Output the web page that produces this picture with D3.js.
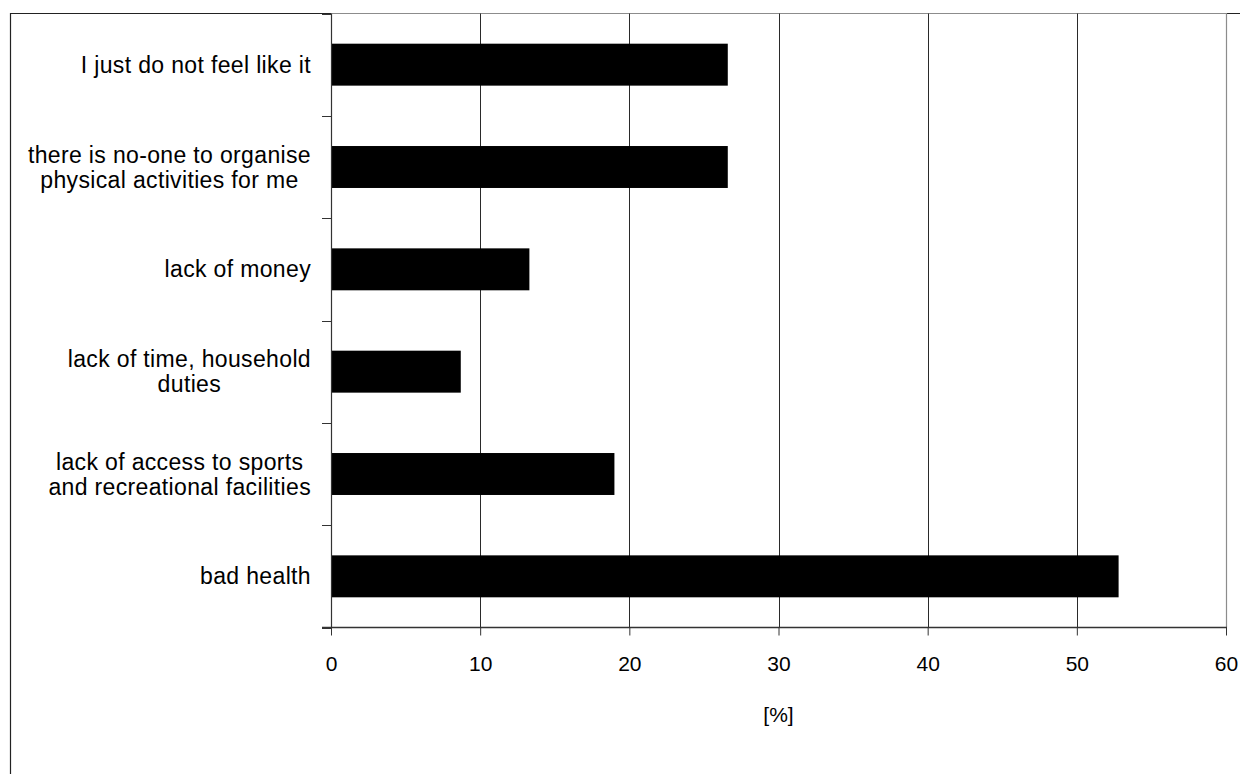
<!DOCTYPE html>
<html>
<head>
<meta charset="utf-8">
<script src="https://cdn.jsdelivr.net/npm/d3@7/dist/d3.min.js"></script>
<style>
  html, body { margin: 0; padding: 0; background: #fff; }
  svg { display: block; font-family: "Liberation Sans", Arial, sans-serif; }
</style>
</head>
<body>
<svg id="chart" width="1240" height="774"></svg>
<script>
// Reasons for not taking part in physical activity, share of respondents [%]
const categories = [
  "I just do not feel like it",
  "there is no-one to organise\nphysical activities for me",
  "lack of money",
  "lack of time, household\nduties",
  "lack of access to sports\nand recreational facilities",
  "bad health"
];
const values = [26.6, 26.6, 13.3, 8.7, 19.0, 52.8];
const xTicks = [0, 10, 20, 30, 40, 50, 60];
const xAxisTitle = "[%]";

const svg = d3.select("#chart");
const plot = { left: 331, right: 1226, top: 13.5, bottom: 627.5 };
const labelFont = 23;
const tickFont = 21;

// Outer chart frame (runs off the right and bottom edges)
svg.append("path")
  .attr("d", `M10.5,774 L10.5,13.5 L1240,13.5`)
  .attr("fill", "none")
  .attr("stroke", "#222")
  .attr("stroke-width", 1.2);

const x = d3.scaleLinear().domain([0, 60]).range([plot.left, plot.right]);
const y = d3.scaleBand()
  .domain(categories)
  .range([plot.top, plot.bottom])
  .paddingInner(0.59)
  .paddingOuter(0.295);

// Plot area border (top and right)
svg.append("path")
  .attr("d", `M${plot.left},${plot.top} L${plot.right + 0.5},${plot.top} L${plot.right + 0.5},${plot.bottom}`)
  .attr("fill", "none")
  .attr("stroke", "#8c8c8c")
  .attr("stroke-width", 1.2);

// Vertical gridlines
svg.append("g")
  .selectAll("line")
  .data(xTicks.filter(t => t > 0 && t < 60))
  .join("line")
  .attr("x1", d => Math.round(x(d)) + 0.5)
  .attr("x2", d => Math.round(x(d)) + 0.5)
  .attr("y1", plot.top)
  .attr("y2", plot.bottom)
  .attr("stroke", "#2a2a2a")
  .attr("stroke-width", 1);

// Bars
svg.append("g")
  .selectAll("rect")
  .data(categories)
  .join("rect")
  .attr("x", x(0))
  .attr("y", d => y(d))
  .attr("width", (d, i) => x(values[i]) - x(0))
  .attr("height", y.bandwidth())
  .attr("fill", "#000");

// Category axis: ticks sit on band boundaries
const boundaries = d3.range(categories.length + 1).map(k => plot.top + k * (plot.bottom - plot.top) / categories.length);
svg.append("line")
  .attr("x1", plot.left + 0.5).attr("x2", plot.left + 0.5)
  .attr("y1", plot.top).attr("y2", plot.bottom)
  .attr("stroke", "#333").attr("stroke-width", 1.2);
svg.append("g")
  .selectAll("line")
  .data(boundaries)
  .join("line")
  .attr("x1", plot.left - 9)
  .attr("x2", plot.left)
  .attr("y1", d => Math.round(d) + 0.5)
  .attr("y2", d => Math.round(d) + 0.5)
  .attr("stroke", "#333");

// Category labels: lines centred on each other, block right-aligned to the axis
const lineGap = 25;
const labelRight = 311;
const labels = svg.append("g")
  .attr("font-size", labelFont)
  .attr("letter-spacing", "0.35px")
  .attr("fill", "#000");
categories.forEach(d => {
  const lines = d.split("\n");
  const cy = y(d) + y.bandwidth() / 2;
  const g = labels.append("g");
  const texts = lines.map((ln, j) => g.append("text")
    .attr("y", cy + (j - (lines.length - 1) / 2) * lineGap)
    .attr("dy", "0.35em")
    .text(ln));
  const widths = texts.map(t => t.node().getComputedTextLength());
  const blockW = d3.max(widths);
  texts.forEach(t => t.attr("text-anchor", "middle").attr("x", labelRight - blockW / 2));
});

// Value axis
const xAxis = d3.axisBottom(x)
  .tickValues(xTicks)
  .tickSize(8)
  .tickPadding(21)
  .tickFormat(d3.format("d"));
const gx = svg.append("g")
  .attr("transform", `translate(0,${plot.bottom})`)
  .call(xAxis);
gx.select(".domain").remove();
gx.selectAll(".tick line").attr("stroke", "#333");
gx.selectAll(".tick text")
  .attr("font-size", tickFont)
  .attr("font-family", "Liberation Sans, Arial, sans-serif")
  .attr("fill", "#000");
svg.append("line")
  .attr("x1", plot.left - 9).attr("x2", plot.right + 1)
  .attr("y1", plot.bottom).attr("y2", plot.bottom)
  .attr("stroke", "#333").attr("stroke-width", 1.3);

svg.append("text")
  .attr("x", (plot.left + plot.right) / 2)
  .attr("y", 715)
  .attr("dy", "0.35em")
  .attr("text-anchor", "middle")
  .attr("font-size", tickFont)
  .attr("fill", "#000")
  .text(xAxisTitle);
</script>
</body>
</html>
